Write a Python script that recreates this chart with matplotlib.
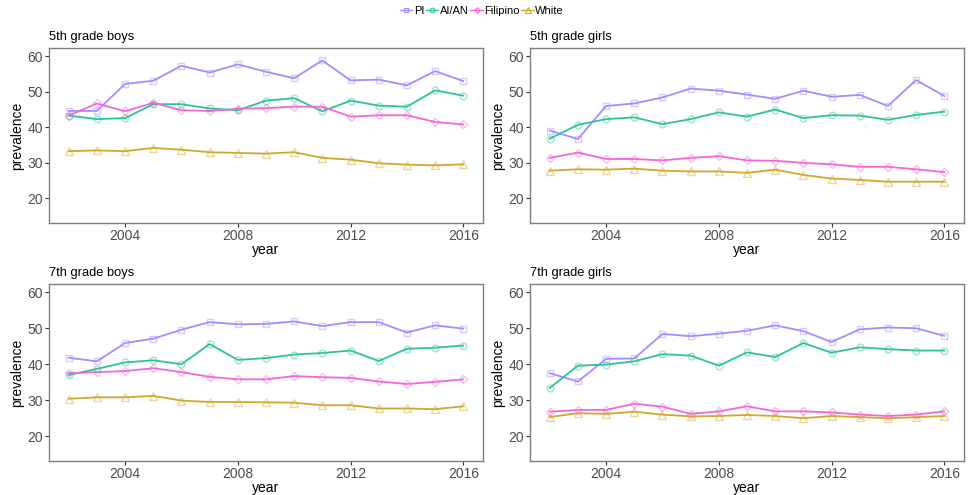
import matplotlib
matplotlib.use("Agg")
import matplotlib.pyplot as plt
from matplotlib.lines import Line2D

plt.rcParams['font.family'] = ['Liberation Sans', 'DejaVu Sans']

years = list(range(2002, 2017))
groups = ["PI", "AI/AN", "Filipino", "White"]
colors = {"PI": "#A68BFF", "AI/AN": "#2BC497", "Filipino": "#F566D6", "White": "#D1A82C"}
markers = {"PI": "s", "AI/AN": "o", "Filipino": "D", "White": "^"}
msizes = {"PI": 4.8, "AI/AN": 4.8, "Filipino": 4.3, "White": 5.3}

panel_titles = ["5th grade boys", "5th grade girls", "7th grade boys", "7th grade girls"]

g5_boys_pi = [44.6, 44.6, 52.2, 53.1, 57.3, 55.4, 57.7, 55.6, 53.8, 58.8, 53.2, 53.4, 51.8, 55.8, 53.0]
g5_boys_aian = [43.3, 42.3, 42.6, 46.5, 46.5, 45.3, 44.8, 47.5, 48.2, 44.5, 47.5, 46.1, 45.8, 50.4, 48.9]
g5_boys_fil = [43.3, 46.7, 44.5, 46.9, 44.8, 44.6, 45.2, 45.4, 45.8, 45.8, 43.0, 43.4, 43.4, 41.5, 40.8]
g5_boys_white = [33.3, 33.5, 33.3, 34.2, 33.7, 33.0, 32.8, 32.6, 33.0, 31.4, 30.9, 29.9, 29.5, 29.3, 29.6]

g5_girls_pi = [39.1, 36.7, 46.0, 46.7, 48.4, 50.9, 50.3, 49.2, 48.0, 50.3, 48.6, 49.1, 46.0, 53.3, 48.8]
g5_girls_aian = [36.8, 40.7, 42.3, 42.8, 40.9, 42.3, 44.2, 43.0, 45.0, 42.6, 43.4, 43.3, 42.1, 43.5, 44.4]
g5_girls_fil = [31.4, 32.9, 31.1, 31.1, 30.7, 31.4, 31.9, 30.7, 30.6, 30.0, 29.6, 28.9, 28.9, 28.2, 27.4]
g5_girls_white = [27.8, 28.2, 28.1, 28.4, 27.8, 27.6, 27.6, 27.2, 28.1, 26.6, 25.6, 25.2, 24.7, 24.7, 24.7]

g7_boys_pi = [41.8, 40.8, 45.9, 47.1, 49.6, 51.7, 51.1, 51.2, 51.9, 50.6, 51.7, 51.7, 48.8, 50.8, 49.9]
g7_boys_aian = [37.0, 38.7, 40.5, 41.1, 40.0, 45.6, 41.2, 41.7, 42.7, 43.1, 43.8, 40.9, 44.3, 44.6, 45.2]
g7_boys_fil = [37.5, 37.8, 38.1, 38.9, 37.8, 36.5, 35.8, 35.8, 36.7, 36.4, 36.2, 35.2, 34.5, 35.1, 35.8]
g7_boys_white = [30.4, 30.8, 30.8, 31.2, 29.9, 29.5, 29.5, 29.4, 29.3, 28.6, 28.6, 27.7, 27.7, 27.5, 28.3]

g7_girls_pi = [37.5, 35.2, 41.5, 41.6, 48.4, 47.8, 48.5, 49.3, 50.8, 49.2, 46.2, 49.7, 50.2, 50.0, 47.9]
g7_girls_aian = [33.4, 39.6, 39.9, 40.8, 42.8, 42.4, 39.6, 43.3, 42.0, 45.9, 43.2, 44.7, 44.2, 43.8, 43.8]
g7_girls_fil = [26.8, 27.3, 27.3, 29.0, 28.2, 26.2, 26.9, 28.3, 26.9, 26.9, 26.6, 26.0, 25.6, 26.0, 26.9]
g7_girls_white = [25.3, 26.4, 26.2, 26.8, 26.0, 25.5, 25.6, 25.9, 25.6, 25.0, 25.6, 25.3, 25.0, 25.3, 25.6]

panels = [
    {"PI": g5_boys_pi, "AI/AN": g5_boys_aian, "Filipino": g5_boys_fil, "White": g5_boys_white},
    {"PI": g5_girls_pi, "AI/AN": g5_girls_aian, "Filipino": g5_girls_fil, "White": g5_girls_white},
    {"PI": g7_boys_pi, "AI/AN": g7_boys_aian, "Filipino": g7_boys_fil, "White": g7_boys_white},
    {"PI": g7_girls_pi, "AI/AN": g7_girls_aian, "Filipino": g7_girls_fil, "White": g7_girls_white},
]

W, H = 971, 495
fig = plt.figure(figsize=(W / 100, H / 100), dpi=100)

# axes boxes in pixels: (left, top, right, bottom)
boxes = [(49, 48, 483, 223), (530, 48, 964, 223), (49, 284, 483, 461), (530, 284, 964, 461)]

for box, title, data in zip(boxes, panel_titles, panels):
    l, t, r, b = box
    ax = fig.add_axes([l / W, 1 - b / H, (r - l) / W, (b - t) / H])
    for g in groups:
        c = colors[g]
        ax.plot(years, data[g], color=c, lw=1.3, zorder=2)
        ax.plot(years, data[g], linestyle='none', marker=markers[g], ms=msizes[g],
                mfc='none', mec=c, mew=1.0, alpha=0.45, zorder=3)
    ax.set_xlim(2001.3, 2016.7)
    ax.set_ylim(13.1, 62.3)
    ax.set_xticks([2004, 2008, 2012, 2016])
    ax.set_yticks([20, 30, 40, 50, 60])
    ax.tick_params(axis='both', labelsize=10, labelcolor='#4D4D4D', color='#333333',
                   length=3, width=0.8, pad=1.5)
    for s in ax.spines.values():
        s.set_color('#7F7F7F')
        s.set_linewidth(1.0)
    ax.set_xlabel("year", fontsize=10, color='black', labelpad=0)
    ax.set_ylabel("prevalence", fontsize=10, color='black', labelpad=2)
    ax.set_title(title, fontsize=9.3, loc='left', pad=6, color='black')

handles = [Line2D([0], [0], color=colors[g], lw=1.0, marker=markers[g], ms=msizes[g] - 1.5,
                  mfc='none', mec=colors[g], mew=0.8) for g in groups]
fig.legend(handles, groups, loc='center', bbox_to_anchor=(482 / W, 1 - 11 / H), ncol=4,
           frameon=False, fontsize=8, handlelength=1.1, handletextpad=0.15,
           columnspacing=0.15, borderpad=0)

fig.savefig("out.png", dpi=100, facecolor='white')
